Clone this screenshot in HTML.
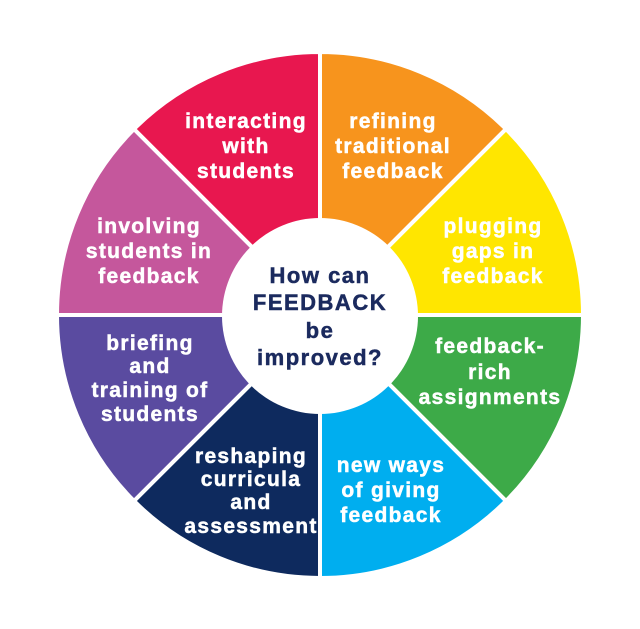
<!DOCTYPE html>
<html><head><meta charset="utf-8"><style>
html,body{margin:0;padding:0;background:#fff;}
svg{display:block;}
text{font-family:"Liberation Sans",sans-serif;font-weight:bold;font-size:21px;text-anchor:middle;fill:#fff;letter-spacing:1.3px;stroke:#fff;stroke-width:0.5px;}
.c{fill:#1B2A5E;stroke:#1B2A5E;font-size:22px;letter-spacing:1.5px;}
</style></head><body>
<svg width="640" height="629" viewBox="0 0 640 629">
<g stroke="#fff" stroke-width="4">
<path d="M320,315 L320,52 A263,263 0 0 1 505.97,129.03 Z" fill="#F7941D"/>
<path d="M320,315 L505.97,129.03 A263,263 0 0 1 583,315 Z" fill="#FFE600"/>
<path d="M320,315 L583,315 A263,263 0 0 1 505.97,500.97 Z" fill="#3DAA48"/>
<path d="M320,315 L505.97,500.97 A263,263 0 0 1 320,578 Z" fill="#00AEEF"/>
<path d="M320,315 L320,578 A263,263 0 0 1 134.03,500.97 Z" fill="#0E2A5E"/>
<path d="M320,315 L134.03,500.97 A263,263 0 0 1 57,315 Z" fill="#5A4BA0"/>
<path d="M320,315 L57,315 A263,263 0 0 1 134.03,129.03 Z" fill="#C5579C"/>
<path d="M320,315 L134.03,129.03 A263,263 0 0 1 320,52 Z" fill="#E8174F"/>
</g>
<circle cx="320" cy="316" r="98" fill="#fff"/>
<text x="246" y="128">interacting</text><text x="246" y="153">with</text><text x="246" y="178">students</text>
<text x="393" y="128">refining</text><text x="393" y="153">traditional</text><text x="393" y="178">feedback</text>
<text x="493" y="233">plugging</text><text x="493" y="258">gaps in</text><text x="493" y="283">feedback</text>
<text x="149" y="233">involving</text><text x="149" y="258">students in</text><text x="149" y="283">feedback</text>
<text x="150" y="350">briefing</text><text x="150" y="373">and</text><text x="150" y="397">training of</text><text x="150" y="421">students</text>
<text x="490" y="353">feedback-</text><text x="490" y="379">rich</text><text x="490" y="404">assignments</text>
<text x="251" y="463">reshaping</text><text x="251" y="486">curricula</text><text x="251" y="509">and</text><text x="251" y="533">assessment</text>
<text x="391" y="472">new ways</text><text x="391" y="497">of giving</text><text x="391" y="522">feedback</text>
<text class="c" x="320" y="283">How can</text><text class="c" x="320" y="310">FEEDBACK</text><text class="c" x="320" y="338">be</text><text class="c" x="320" y="365">improved?</text>
</svg>
</body></html>
